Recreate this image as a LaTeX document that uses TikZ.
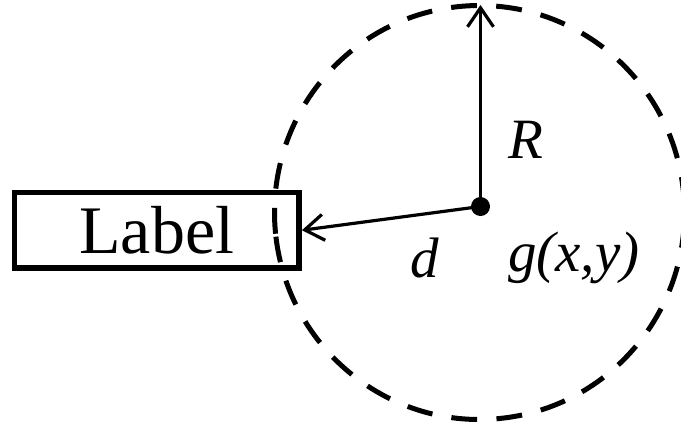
\documentclass[tikz,border=0pt]{standalone}
\usepackage{fontspec}
\setmainfont{Liberation Serif}
\usetikzlibrary{arrows.meta}
\begin{document}
\begin{tikzpicture}[x=1pt,y=1pt,
  arr/.style={line width=3.2pt, -{Straight Barb[length=19pt,width=26pt,line width=3.2pt]}},
  circ/.style={line width=5pt, dash pattern=on 25.9pt off 19.3pt},
  boxstyle/.style={draw, line width=5.8pt, minimum width=284.5pt, minimum height=75.5pt, inner sep=0pt, font=\fontsize{68}{68}\selectfont},
  dotstyle/.style={circle, fill, inner sep=0pt, minimum size=19pt},
  lab/.style={inner sep=0pt, anchor=base west, font=\fontsize{57}{57}\selectfont\itshape}]
\useasboundingbox (0,-429) rectangle (681,0);
\node[boxstyle] (label) at (156.75,-230.25) {Label};
\draw[circ] (479.5,-212.5) ++(186.7:205 and 207) arc[start angle=186.7, end angle=546.7, x radius=205, y radius=207];
\node[dotstyle] (g) at (480.5,-206.5) {};
\coordinate (top) at (480.5,-5);
\draw[arr] (g.center) -- (top);
\draw[arr] (g.center) -- (label.east);
\node[lab] (Rl) at (508,-158) {R};
\node[lab] (dl) at (410,-277) {d};
\node[lab] (gl) at (508,-271) {g(x,y)};
\end{tikzpicture}
\end{document}
